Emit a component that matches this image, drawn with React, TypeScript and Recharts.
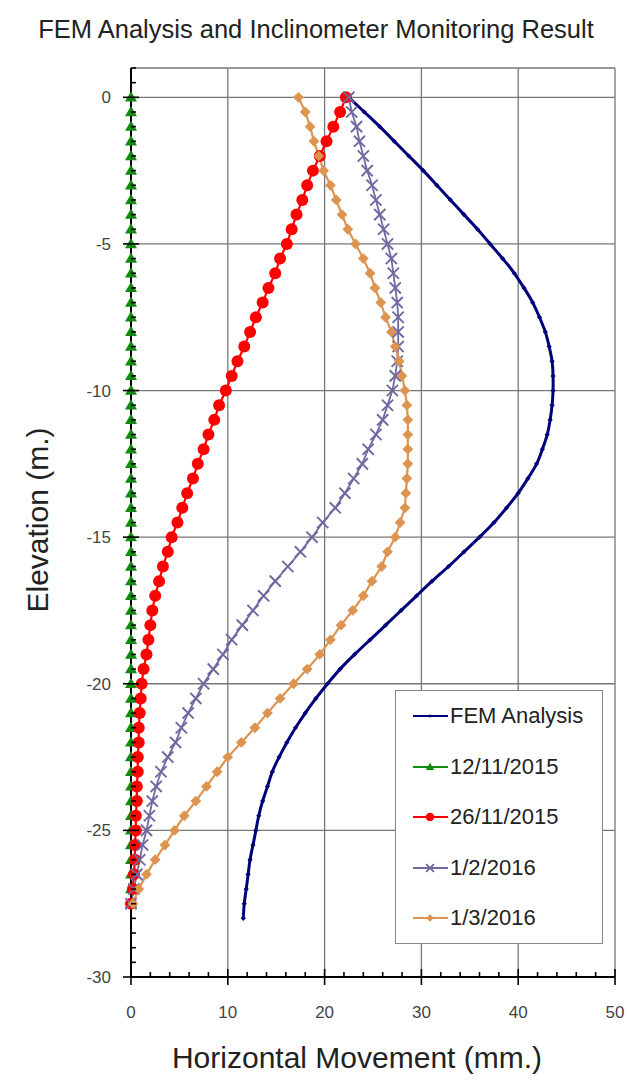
import React from 'react';
import { LineChart, Line, XAxis, YAxis, CartesianGrid } from 'recharts';

// elevations (m.)
const femDepth = [
  0, -0.5, -1, -1.5, -2, -2.5, -3, -3.5, -4, -4.5, -5, -5.5, -6, -6.5, -7, -7.5, -8, -8.5, -9, -9.5,
  -10, -10.5, -11, -11.5, -12, -12.5, -13, -13.5, -14, -14.5, -15, -15.5, -16, -16.5, -17, -17.5, -18, -18.5, -19, -19.5,
  -20, -20.5, -21, -21.5, -22, -22.5, -23, -23.5, -24, -24.5, -25, -25.5, -26, -26.5, -27, -27.5, -28,
];
const depth = [
  0, -0.5, -1, -1.5, -2, -2.5, -3, -3.5, -4, -4.5, -5, -5.5, -6, -6.5, -7, -7.5, -8, -8.5, -9, -9.5,
  -10, -10.5, -11, -11.5, -12, -12.5, -13, -13.5, -14, -14.5, -15, -15.5, -16, -16.5, -17, -17.5, -18, -18.5, -19, -19.5,
  -20, -20.5, -21, -21.5, -22, -22.5, -23, -23.5, -24, -24.5, -25, -25.5, -26, -26.5, -27, -27.5,
];

// horizontal movement (mm.)
const femMove = [
  22.5, 24.1, 25.7, 27.2, 28.7, 30.2, 31.6, 33.0, 34.4, 35.8, 37.1, 38.4, 39.6, 40.6, 41.5, 42.2, 42.8, 43.2, 43.5, 43.6,
  43.6, 43.5, 43.3, 43.0, 42.5, 41.9, 41.0, 40.0, 38.8, 37.5, 36.0, 34.4, 32.8, 31.1, 29.5, 27.9, 26.3, 24.7, 23.1, 21.6,
  20.3, 19.1, 18.0, 17.0, 16.1, 15.3, 14.6, 14.1, 13.6, 13.2, 12.9, 12.6, 12.3, 12.1, 11.9, 11.7, 11.6,
];
const move121115 = [
  0, 0, 0, 0, 0, 0, 0, 0, 0, 0, 0, 0, 0, 0, 0, 0, 0, 0, 0, 0,
  0, 0, 0, 0, 0, 0, 0, 0, 0, 0, 0, 0, 0, 0, 0, 0, 0, 0, 0, 0,
  0, 0, 0, 0, 0, 0, 0, 0, 0, 0, 0, 0, 0, 0, 0, 0,
];
const move261115 = [
  22.2, 21.6, 20.9, 20.2, 19.5, 18.8, 18.2, 17.7, 17.1, 16.6, 16.1, 15.4, 14.9, 14.2, 13.6, 12.9, 12.3, 11.7, 11.0, 10.4,
  9.8, 9.1, 8.6, 8.0, 7.5, 6.9, 6.4, 5.8, 5.3, 4.8, 4.2, 3.8, 3.3, 2.9, 2.5, 2.2, 2.0, 1.8, 1.6, 1.3,
  1.1, 1.0, 0.9, 0.8, 0.8, 0.7, 0.7, 0.6, 0.6, 0.5, 0.5, 0.4, 0.4, 0.3, 0.2, 0.0,
];
const move010216 = [
  22.5, 22.8, 23.3, 23.6, 24.0, 24.4, 24.9, 25.3, 25.7, 26.1, 26.5, 26.9, 27.1, 27.3, 27.5, 27.6, 27.6, 27.6, 27.5, 27.3,
  27.0, 26.5, 26.0, 25.3, 24.5, 23.9, 23.0, 22.1, 21.1, 19.8, 18.7, 17.5, 16.2, 14.9, 13.7, 12.6, 11.5, 10.4, 9.5, 8.5,
  7.5, 6.7, 5.9, 5.2, 4.6, 3.8, 3.1, 2.6, 2.2, 1.9, 1.6, 1.2, 0.9, 0.6, 0.3, 0.0,
];
const move010316 = [
  17.3, 18.0, 18.5, 18.9, 19.4, 19.9, 20.6, 21.2, 21.8, 22.4, 23.2, 24.0, 24.7, 25.2, 25.8, 26.3, 26.9, 27.3, 27.7, 28.0,
  28.3, 28.5, 28.6, 28.6, 28.6, 28.6, 28.5, 28.4, 28.3, 27.8, 27.3, 26.5, 25.9, 24.9, 24.0, 22.9, 21.7, 20.6, 19.5, 18.2,
  16.8, 15.4, 14.1, 12.8, 11.4, 10.0, 8.9, 7.8, 6.7, 5.5, 4.5, 3.5, 2.5, 1.6, 0.8, 0.2,
];

const xTicks = [0, 2, 4, 6, 8, 10, 12, 14, 16, 18, 20, 22, 24, 26, 28, 30, 32, 34, 36, 38, 40, 42, 44, 46, 48, 50];
const yTicks = [
  -30, -29.5, -29, -28.5, -28, -27.5, -27, -26.5, -26, -25.5, -25, -24.5, -24, -23.5, -23, -22.5, -22, -21.5, -21, -20.5,
  -20, -19.5, -19, -18.5, -18, -17.5, -17, -16.5, -16, -15.5, -15, -14.5, -14, -13.5, -13, -12.5, -12, -11.5, -11, -10.5,
  -10, -9.5, -9, -8.5, -8, -7.5, -7, -6.5, -6, -5.5, -5, -4.5, -4, -3.5, -3, -2.5, -2, -1.5, -1, -0.5, 0, 0.5, 1,
];
const xGrid = [10, 20, 30, 40, 50];
const yGrid = [1, 0, -5, -10, -15, -20, -25];

const zip = (ys: number[], xs: number[]) => ys.map((y, i) => ({ y, x: xs[i] }));

const FONT = '"Liberation Sans", Arial, sans-serif';

type MarkerKind = 'dot' | 'triangle' | 'circle' | 'cross' | 'diamond';

const Marker = ({ kind, cx, cy, color, s = 1 }: { kind: MarkerKind; cx: number; cy: number; color: string; s?: number }) => {
  if (kind === 'dot') {
    const r = 2.6 * s;
    return <path d={`M${cx},${cy - r}L${cx + r},${cy}L${cx},${cy + r}L${cx - r},${cy}Z`} fill={color} />;
  }
  if (kind === 'triangle') {
    const r = 6 * s;
    return <path d={`M${cx},${cy - r}L${cx + r},${cy + r * 0.7}L${cx - r},${cy + r * 0.7}Z`} fill={color} />;
  }
  if (kind === 'circle') return <circle cx={cx} cy={cy} r={6 * s} fill={color} />;
  if (kind === 'cross') {
    const r = 5.6 * s;
    return (
      <path
        d={`M${cx - r},${cy - r}L${cx + r},${cy + r}M${cx - r},${cy + r}L${cx + r},${cy - r}`}
        stroke={color}
        strokeWidth={1.9}
      />
    );
  }
  const r = 5.4 * s;
  return <path d={`M${cx},${cy - r}L${cx + r},${cy}L${cx},${cy + r}L${cx - r},${cy}Z`} fill={color} />;
};

const series = [
  { name: 'FEM Analysis', data: zip(femDepth, femMove), color: '#00007a', kind: 'dot' as MarkerKind, width: 3, curve: 'natural' },
  { name: '12/11/2015', data: zip(depth, move121115), color: '#118a11', kind: 'triangle' as MarkerKind, width: 1.6, curve: 'linear' },
  { name: '26/11/2015', data: zip(depth, move261115), color: '#ff0000', kind: 'circle' as MarkerKind, width: 2.2, curve: 'linear' },
  { name: '1/2/2016', data: zip(depth, move010216), color: '#6e69a0', kind: 'cross' as MarkerKind, width: 1.8, curve: 'linear' },
  { name: '1/3/2016', data: zip(depth, move010316), color: '#dc9450', kind: 'diamond' as MarkerKind, width: 2.2, curve: 'linear' },
];

const XTick = (props: any) => {
  const { x, y, payload } = props;
  const v = payload.value;
  const major = v % 10 === 0;
  return (
    <g>
      <line x1={x} x2={x} y1={major ? y - 8 : y - 5} y2={major ? y + 8 : y} stroke="#000" strokeWidth={1.6} />
      {major && (
        <text x={x} y={y + 41} textAnchor="middle" fontSize={17} fill="#444" fontFamily={FONT}>
          {v}
        </text>
      )}
    </g>
  );
};

const YTick = (props: any) => {
  const { x, y, payload } = props;
  const v = payload.value;
  const major = v % 5 === 0 && v <= 0;
  return (
    <g>
      <line x1={major ? x - 8 : x} x2={major ? x + 8 : x + 5} y1={y} y2={y} stroke="#000" strokeWidth={1.6} />
      {major && (
        <text x={x - 20} y={y + 6} textAnchor="end" fontSize={17} fill="#444" fontFamily={FONT}>
          {v}
        </text>
      )}
    </g>
  );
};

const Legend = () => (
  <div
    style={{
      position: 'absolute',
      left: 395,
      top: 690,
      width: 208,
      height: 254,
      border: '1px solid #888',
      background: '#fff',
      boxSizing: 'border-box',
      fontFamily: FONT,
    }}
  >
    {series.map((s, i) => (
      <div
        key={s.name}
        style={{ position: 'absolute', left: 16, top: 8 + i * 50.5, height: 34, display: 'flex', alignItems: 'center' }}
      >
        <svg width={38} height={20}>
          <line x1={1} x2={36} y1={10} y2={10} stroke={s.color} strokeWidth={2} />
          <Marker kind={s.kind} cx={18} cy={10} color={s.color} s={0.7} />
        </svg>
        <span style={{ fontSize: 22, color: '#222', marginLeft: 0, whiteSpace: 'nowrap' }}>{s.name}</span>
      </div>
    ))}
  </div>
);

export default function App() {
  return (
    <div style={{ position: 'absolute', left: 0, top: 0, width: 629, height: 1082, background: '#fff', fontFamily: FONT }}>
      <div
        style={{ position: 'absolute', left: 0, top: 15, width: 632, textAlign: 'center', fontSize: 25.5, color: '#222' }}
      >
        FEM Analysis and Inclinometer Monitoring Result
      </div>
      <LineChart width={629} height={1082} margin={{ top: 68, right: 14, bottom: 0, left: 0 }}>
        <CartesianGrid horizontalValues={yGrid} verticalValues={xGrid} stroke="#777" strokeWidth={1.3} />
        <XAxis
          type="number"
          dataKey="x"
          domain={[0, 50]}
          ticks={xTicks}
          interval={0}
          height={105}
          tickSize={0}
          tickMargin={0}
          tickLine={false}
          tick={<XTick />}
          axisLine={{ stroke: '#000', strokeWidth: 2 }}
        />
        <YAxis
          type="number"
          dataKey="y"
          domain={[-30, 1]}
          ticks={yTicks}
          interval={0}
          width={131}
          tickSize={0}
          tickMargin={0}
          tickLine={false}
          tick={<YTick />}
          axisLine={{ stroke: '#000', strokeWidth: 2 }}
        />
        {series.map((s) => (
          <Line
            key={s.name}
            name={s.name}
            data={s.data}
            dataKey="y"
            type={s.curve as any}
            stroke={s.color}
            strokeWidth={s.width}
            isAnimationActive={false}
            dot={(p: any) => <Marker key={p.index} kind={s.kind} cx={p.cx} cy={p.cy} color={s.color} />}
            activeDot={false}
          />
        ))}
      </LineChart>
      <Legend />
      <div
        style={{
          position: 'absolute',
          left: 38 - 150,
          top: 520 - 18,
          width: 300,
          height: 36,
          lineHeight: '36px',
          textAlign: 'center',
          fontSize: 30,
          color: '#222',
          transform: 'rotate(-90deg)',
        }}
      >
        Elevation (m.)
      </div>
      <div
        style={{
          position: 'absolute',
          left: 357 - 250,
          top: 1058 - 18,
          width: 500,
          height: 36,
          lineHeight: '36px',
          textAlign: 'center',
          fontSize: 30,
          color: '#222',
        }}
      >
        Horizontal Movement (mm.)
      </div>
    </div>
  );
}
